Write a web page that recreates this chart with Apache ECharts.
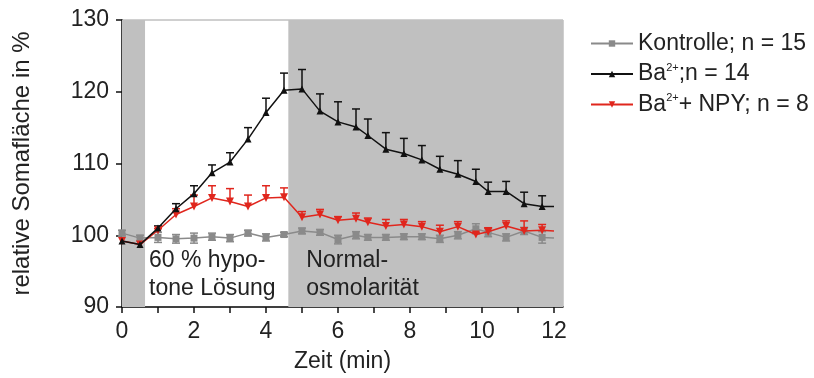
<!DOCTYPE html>
<html>
<head>
<meta charset="utf-8">
<script src="https://cdn.jsdelivr.net/npm/echarts@6/dist/echarts.min.js"></script>
<style>
  html, body { margin: 0; padding: 0; background: #fff; }
  #chart { width: 814px; height: 378px; }
</style>
</head>
<body>
<div id="chart"></div>
<script>
// Zeitpunkte (min); letzter Punkt = Linienende ohne Marker
const zeit = [0, 0.5, 1, 1.5, 2, 2.5, 3, 3.5, 4, 4.5, 5, 5.5, 6, 6.5, 6.83, 7.33, 7.83, 8.33, 8.83, 9.33, 9.83, 10.17, 10.67, 11.17, 11.67, 12]

const kontrolle = [100.3, 99.6, 99.7, 99.5, 99.6, 99.8, 99.6, 100.3, 99.7, 100.1, 100.6, 100.4, 99.4, 100.0, 99.7, 99.7, 99.8, 99.8, 99.5, 100.0, 100.9, 100.4, 99.7, 100.6, 99.7, 99.6]
const kontrolleErr = [0.4, 0.4, 0.7, 0.6, 0.7, 0.5, 0.5, 0.4, 0.5, 0.3, 0.4, 0.4, 0.6, 0.5, 0.4, 0.4, 0.4, 0.4, 0.5, 0.5, 0.7, 0.6, 0.5, 0.5, 0.8]

const barium = [99.2, 98.7, 101.0, 103.7, 105.8, 108.7, 110.2, 113.4, 117.1, 120.2, 120.4, 117.3, 115.8, 115.1, 113.9, 112.0, 111.4, 110.5, 109.2, 108.5, 107.5, 106.1, 106.1, 104.4, 104.0, 104.0]
const bariumErr = [0, 0, 0.3, 0.7, 1.1, 1.1, 1.3, 1.6, 2.0, 2.4, 2.7, 2.4, 2.8, 2.5, 2.3, 2.3, 2.1, 2.0, 1.8, 1.9, 1.7, 1.3, 1.4, 1.6, 1.5]

const bariumNpy = [99.2, 98.7, 100.7, 102.9, 104.0, 105.2, 104.7, 104.0, 105.2, 105.3, 102.5, 102.9, 102.1, 102.3, 101.8, 101.3, 101.5, 101.2, 100.5, 101.2, 100.1, 100.5, 101.3, 100.6, 100.7, 100.6]
const bariumNpyErr = [0, 0, 0.2, 0.8, 1.6, 1.7, 1.8, 1.6, 1.7, 1.3, 0.8, 0.7, 0.5, 0.8, 0.6, 0.9, 0.7, 0.7, 0.9, 0.7, 0.3, 0.55, 0.7, 1.4, 0.8]

// Phasen: isoton, hypoton, Normalosmolarität
const phasenStart = [0, 0.64, 4.62]
const phasenEnde = [0.64, 4.62, 12.25]
const phasenText = ['', '60 % hypo-\ntone Lösung', 'Normal-\nosmolarität']

const xTicks = [0, 1, 2, 3, 4, 5, 6, 7, 8, 9, 10, 11, 12]
const xLabels = [0, 2, 4, 6, 8, 10, 12]

const schrift = "'Liberation Sans', Arial, sans-serif"

let chart = echarts.init(document.getElementById('chart'))

function linie (werte) {
  return werte.map((v, i) => i === werte.length - 1 ? { value: [zeit[i], v], symbol: 'none' } : [zeit[i], v])
}

// Fehlerbalken: [x, unten, oben, beideEnden]
function fehler (werte, err, beide) {
  let out = []
  for (let i = 0; i < err.length; i++) {
    if (!err[i]) continue
    out.push([zeit[i], beide ? werte[i] - err[i] : werte[i], werte[i] + err[i], beide ? 1 : 0])
  }
  return out
}

function fehlerSerie (name, daten, farbe) {
  return {
    name: name + '_err',
    type: 'custom',
    z: 3,
    silent: true,
    data: daten,
    renderItem: function (params, api) {
      let unten = api.coord([api.value(0), api.value(1)])
      let oben = api.coord([api.value(0), api.value(2)])
      let w = 4
      let kinder = [
        { type: 'line', shape: { x1: oben[0], y1: oben[1], x2: unten[0], y2: unten[1] } },
        { type: 'line', shape: { x1: oben[0] - w, y1: oben[1], x2: oben[0] + w, y2: oben[1] } }
      ]
      if (api.value(3)) {
        kinder.push({ type: 'line', shape: { x1: unten[0] - w, y1: unten[1], x2: unten[0] + w, y2: unten[1] } })
      }
      kinder.forEach(k => { k.style = { stroke: farbe, lineWidth: 1.5 } })
      return { type: 'group', children: kinder }
    }
  }
}

let farben = { k: '#8a8a8a', b: '#111111', r: '#e0261d' }

let option = {
  animation: false,
  textStyle: { fontFamily: schrift },
  grid: {
    left: 122, right: 251, top: 20, bottom: 68,
    show: true,
    backgroundColor: '#ffffff',
    borderColor: '#a0a0a0',
    borderWidth: 1
  },
  legend: {
    orient: 'vertical',
    left: 585,
    top: 27,
    itemWidth: 42,
    itemHeight: 8,
    itemGap: 7,
    data: ['Kontrolle', 'Ba', 'BaNPY'],
    textStyle: {
      fontSize: 23,
      color: '#222',
      fontFamily: schrift,
      rich: {
        t: { fontSize: 23, color: '#222', fontFamily: schrift, lineHeight: 24 },
        s: { fontSize: 11, color: '#222', fontFamily: schrift, verticalAlign: 'top', lineHeight: 12 }
      }
    },
    formatter: function (name) {
      if (name === 'Kontrolle') return '{t|Kontrolle; n = 15}'
      if (name === 'Ba') return '{t|Ba}{s|2+}{t|;n = 14}'
      return '{t|Ba}{s|2+}{t|+ NPY; n = 8}'
    }
  },
  xAxis: {
    type: 'value',
    min: 0,
    max: 12.25,
    name: 'Zeit (min)',
    nameLocation: 'middle',
    nameGap: 43,
    nameTextStyle: { fontSize: 23, color: '#222', fontFamily: schrift },
    axisLine: { show: true, onZero: false, lineStyle: { color: '#111', width: 1.5 } },
    axisTick: { show: true, inside: false, length: 6, customValues: xTicks, lineStyle: { color: '#111', width: 1.5 } },
    axisLabel: { customValues: xLabels, fontSize: 23, color: '#222', margin: 13, fontFamily: schrift },
    splitLine: { show: false }
  },
  yAxis: {
    type: 'value',
    min: 90,
    max: 130,
    interval: 10,
    name: 'relative Somafläche in %',
    nameLocation: 'middle',
    nameGap: 88,
    nameTextStyle: { fontSize: 24, color: '#222', fontFamily: schrift },
    axisLine: { show: true, lineStyle: { color: '#111', width: 1.5 } },
    axisTick: { show: true, inside: false, length: 6, lineStyle: { color: '#111', width: 1.5 } },
    axisLabel: { fontSize: 23, color: '#222', margin: 13, fontFamily: schrift },
    splitLine: { show: false }
  },
  series: [
    {
      name: 'phasen',
      type: 'line',
      z: 0,
      data: [],
      silent: true,
      markArea: {
        silent: true,
        itemStyle: { color: '#c0c0c0' },
        label: {
          show: true,
          position: 'insideBottomLeft',
          formatter: '{b}',
          fontSize: 23,
          lineHeight: 28,
          color: '#222',
          fontFamily: schrift,
          distance: 4
        },
        data: phasenStart.map((s, i) => [
          {
            xAxis: s,
            name: phasenText[i],
            itemStyle: i === 1 ? { color: 'rgba(255,255,255,0)' } : undefined,
            label: i === 2 ? { offset: [14, 0] } : undefined
          },
          { xAxis: phasenEnde[i] }
        ])
      }
    },
    fehlerSerie('Kontrolle', fehler(kontrolle, kontrolleErr, true), farben.k),
    fehlerSerie('BaNPY', fehler(bariumNpy, bariumNpyErr, false), farben.r),
    fehlerSerie('Ba', fehler(barium, bariumErr, false), farben.b),
    {
      name: 'Kontrolle',
      type: 'line',
      z: 4,
      data: linie(kontrolle),
      symbol: 'rect',
      symbolSize: 7,
      lineStyle: { color: farben.k, width: 1.5 },
      itemStyle: { color: farben.k }
    },
    {
      name: 'BaNPY',
      type: 'line',
      z: 5,
      data: linie(bariumNpy),
      symbol: 'path://M0,0 L10,0 L5,9 Z',
      symbolSize: 8,
      lineStyle: { color: farben.r, width: 1.5 },
      itemStyle: { color: farben.r }
    },
    {
      name: 'Ba',
      type: 'line',
      z: 6,
      data: linie(barium),
      symbol: 'triangle',
      symbolSize: 7,
      lineStyle: { color: farben.b, width: 1.5 },
      itemStyle: { color: farben.b }
    }
  ]
}

chart.setOption(option)
window.addEventListener('resize', () => {
  chart.resize()
})
</script>
</body>
</html>
